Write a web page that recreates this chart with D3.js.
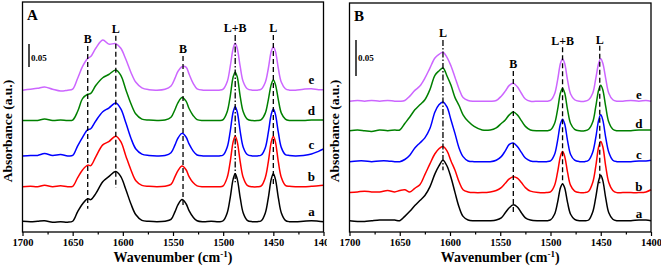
<!DOCTYPE html>
<html lang="en">
<head>
<meta charset="UTF-8">
<title>FTIR spectra of adsorbed pyridine</title>
<script src="https://cdn.jsdelivr.net/npm/d3@7"></script>
<style>
  body { margin:0; background:#fff; }
  svg text { font-family:'Liberation Serif','Times New Roman',serif; font-weight:bold; fill:#000; }
</style>
</head>
<body>
<svg id="chart" width="661" height="267"></svg>
<script>
/* global d3 */
// ---- data ----
const sampleNames = ["a", "b", "c", "d", "e"];
const colours = ["#000000", "#ff0000", "#0000ff", "#008000", "#cc66ff"];
const majorTicks = [1700, 1650, 1600, 1550, 1500, 1450, 1400];
const minorTicks = [1675, 1625, 1575, 1525, 1475, 1425];

// panel A
const wavenumberA = [1700,1692,1685,1678,1670,1662,1655,
  1650,1645,1640,1635,1632,1627,1620,1614,1607,1602,1597,1592,1587,1581,1574,
  1566,1558,1552,1548,1545,1541,1537,1534,1530,1526,1520,1512,1504,
  1500,1496,1493,1490,1488,1486,1483,1480,1476,1471,1466,
  1462,1458,1455,1452,1450,1448,1445,1442,1438,1434,
  1428,1420,1412,1405,1400];
const specA_a = [0.001,0,0.001,0.002,-0.001,0,-0.001,
  0.001,0.022,0.039,0.050,0.048,0.061,0.087,0.098,0.109,0.098,0.070,0.039,0.015,0.003,0.001,
  0,0.001,0.005,0.022,0.037,0.048,0.039,0.024,0.010,0.002,0,0.001,0,
  0.002,0.019,0.052,0.093,0.104,0.093,0.052,0.019,0.003,0,0,
  0.002,0.019,0.052,0.093,0.104,0.093,0.052,0.019,0.003,0,
  0,0.001,0.002,0.001,0];
const specA_b = [0,0.001,0,0.003,0,0.002,0,
  0.001,0.020,0.037,0.047,0.046,0.065,0.091,0.098,0.110,0.098,0.067,0.037,0.013,0.003,0.001,
  0,0.001,0.005,0.022,0.035,0.045,0.037,0.022,0.009,0.002,0,0,0,
  0.002,0.020,0.054,0.098,0.110,0.098,0.054,0.020,0.003,0,0,
  0.002,0.020,0.054,0.098,0.110,0.098,0.054,0.020,0.003,0.001,
  0,0,0.001,0.002,0.003];
const specA_c = [0,0.001,0.001,0.005,0.001,0.003,0,
  0.001,0.022,0.041,0.057,0.059,0.076,0.096,0.104,0.115,0.102,0.072,0.039,0.015,0.004,0.001,
  0,0.001,0.007,0.024,0.039,0.049,0.041,0.026,0.011,0.002,0,0,0,
  0.002,0.019,0.053,0.096,0.107,0.096,0.053,0.019,0.003,0,0,
  0.002,0.018,0.051,0.091,0.102,0.091,0.051,0.018,0.003,0.001,
  0,0.001,0.004,0.010,0.015];
const specA_d = [0,0,0,0.003,0,0.001,0,
  0.001,0.020,0.048,0.057,0.059,0.076,0.093,0.100,0.110,0.098,0.067,0.037,0.014,0.003,0.001,
  0,0.001,0.007,0.024,0.039,0.050,0.042,0.026,0.011,0.002,0,0,0,
  0.002,0.019,0.052,0.095,0.105,0.095,0.052,0.019,0.003,0,0,
  0.002,0.016,0.045,0.079,0.088,0.079,0.045,0.016,0.003,0,
  0,0,0.001,0.001,0.001];
const specA_e = [0,0.002,0.004,0.007,0.002,-0.002,0,
  0.002,0.026,0.052,0.069,0.073,0.091,0.109,0.100,0.101,0.091,0.067,0.039,0.017,0.005,0.001,
  0,0.002,0.009,0.026,0.041,0.051,0.050,0.035,0.015,0.003,0,0,0,
  0.002,0.018,0.051,0.091,0.102,0.091,0.051,0.018,0.003,0,0,
  0.002,0.017,0.047,0.085,0.094,0.085,0.047,0.017,0.003,0,
  0,0.002,0.003,0.001,0.001];
const offsetsA = [0, 0.076, 0.143, 0.220, 0.286];
// band markers: wavenumber, label, label height, line top, line bottom (a.u.)
const bandWnA = [1635, 1607, 1540, 1488, 1450];
const bandTextA = ["B", "L", "B", "L+B", "L"];
const bandLabelA = [0.388, 0.410, 0.367, 0.412, 0.412];
const bandTopA = [0.382, 0.404, 0.360, 0.406, 0.406];
const bandEndA = [0.028, 0.073, 0.036, 0.086, 0.080];
const bandDashA = ["dash", "dash", "dash", "dashdot", "dash"];

// panel B
const wavenumberB = [1700,1692,1685,1678,1670,1662,1655,
  1650,1645,1640,1635,1630,1625,1620,1615,1611,1607,
  1603,1599,1595,1591,1587,1582,1576,1568,
  1560,1554,1549,1545,1541,1537,1533,1529,1525,1520,1512,1504,
  1500,1496,1493,1490,1488,1486,1483,1480,1476,1471,1466,
  1462,1458,1455,1452,1450,1448,1445,1442,1438,1434,
  1428,1420,1412,1405,1400];
const specB_a = [0,-0.001,-0.001,0,0.001,0.001,0.001,
  0,0.006,0.013,0.021,0.028,0.035,0.047,0.065,0.076,0.084,
  0.076,0.060,0.039,0.019,0.006,0.001,0,0,
  0,0.001,0.004,0.011,0.018,0.022,0.019,0.011,0.004,0.001,0,0,
  0.001,0.009,0.025,0.046,0.051,0.046,0.025,0.009,0.002,0,0,
  0.001,0.012,0.032,0.056,0.063,0.056,0.031,0.011,0.002,0,
  0,0,0.001,0.001,0];
const specB_b = [0,0.001,0.002,0.001,0.001,0.003,0.001,
  0.003,0.004,0.001,0.006,0.011,0.025,0.040,0.054,0.061,0.064,
  0.058,0.044,0.031,0.015,0.004,0.001,0,0,
  0.001,0.003,0.007,0.013,0.019,0.022,0.020,0.014,0.007,0.002,0,0,
  0.001,0.010,0.028,0.051,0.057,0.051,0.028,0.010,0.002,0,0,
  0.002,0.014,0.036,0.064,0.071,0.064,0.036,0.014,0.003,0,
  0,0,0,0.001,0.004];
const specB_c = [0,0.001,0.001,0,0.001,0.001,0,
  0,0.003,0.009,0.019,0.026,0.033,0.046,0.069,0.079,0.083,
  0.076,0.058,0.039,0.019,0.007,0.001,0,0,
  0,0.002,0.007,0.015,0.024,0.026,0.021,0.013,0.005,0.001,0,0,
  0.001,0.010,0.029,0.053,0.059,0.053,0.029,0.010,0.002,0,0,
  0.002,0.013,0.033,0.058,0.065,0.058,0.033,0.013,0.002,0,
  0,0,0.001,0.001,0.002];
const specB_d = [0,0.001,0,-0.001,0.001,0,0.001,
  0.001,0.010,0.019,0.029,0.036,0.043,0.057,0.077,0.083,0.087,
  0.076,0.063,0.046,0.035,0.022,0.013,0.006,0.001,
  0.001,0.004,0.010,0.015,0.022,0.026,0.022,0.014,0.006,0.001,0,0,
  0.001,0.010,0.029,0.053,0.059,0.053,0.029,0.010,0.002,0,0,
  0.002,0.012,0.033,0.057,0.063,0.057,0.033,0.012,0.002,0,
  0,0,0.001,0.001,0.001];
const specB_e = [0,0.001,0,0.001,0,0.001,0,
  0,0.001,0.007,0.015,0.021,0.032,0.046,0.060,0.065,0.068,
  0.061,0.049,0.033,0.017,0.005,0.001,0,0,
  0,0.001,0.007,0.014,0.022,0.025,0.020,0.011,0.003,0,0,0,
  0.001,0.010,0.029,0.053,0.059,0.053,0.029,0.010,0.002,0,0,
  0.002,0.011,0.031,0.053,0.059,0.053,0.031,0.011,0.002,0,
  0,0.001,0,0.001,0];
const offsetsB = [0, 0.039, 0.082, 0.125, 0.166];
const bandWnB = [1607, 1537, 1488, 1451];
const bandTextB = ["L", "B", "L+B", "L"];
const bandLabelB = [0.255, 0.212, 0.244, 0.245];
const bandTopB = [0.251, 0.208, 0.241, 0.243];
const bandEndB = [0.070, 0.012, 0.050, 0.052];
const bandDashB = ["dashdot", "dash", "dash", "dash"];

const labelWn = 1412;   // where the a..e tags sit

// ---- drawing ----
const svg = d3.select("#chart");
const dashes = { dash: "5,3", dashdot: "6,2,1.5,2" };

function drawPanel(p) {
  const g = svg.append("g");
  if (p.clip) {
    svg.append("clipPath").attr("id", p.id + "clip")
      .append("rect").attr("x", 0).attr("y", 0).attr("width", p.clip).attr("height", 267);
    g.attr("clip-path", "url(#" + p.id + "clip)");
  }

  let x = d3.scaleLinear().domain([1700, 1400]).range(p.xRange);
  let y = d3.scaleLinear().domain(p.yDomain).range(p.yRange);

  // spectra
  let line = d3.line()
    .x(d => x(d[0]))
    .y(d => y(d[1]))
    .curve(d3.curveCatmullRom.alpha(0.5));

  p.series.forEach((vals, i) => {
    let pts = p.wn.map((w, j) => [w, vals[j] + p.offsets[i]]);
    g.append("path")
      .attr("d", line(pts))
      .attr("fill", "none")
      .attr("stroke", colours[i])
      .attr("stroke-width", 1.5)
      .attr("stroke-linejoin", "round");

    let k = p.wn.indexOf(labelWn);
    g.append("text")
      .attr("x", x(labelWn))
      .attr("y", y(vals[k] + p.offsets[i]) - p.labelLift)
      .attr("text-anchor", "middle")
      .style("font-size", "13px")
      .text(sampleNames[i]);
  });

  // band markers
  p.bandWn.forEach((w, i) => {
    g.append("line")
      .attr("x1", x(w)).attr("x2", x(w))
      .attr("y1", y(p.bandTop[i])).attr("y2", y(p.bandEnd[i]))
      .attr("stroke", "#000")
      .attr("stroke-width", 1.3)
      .attr("stroke-dasharray", dashes[p.bandDash[i]]);
    g.append("text")
      .attr("x", x(w))
      .attr("y", y(p.bandLabel[i]))
      .attr("text-anchor", "middle")
      .style("font-size", "12px")
      .text(p.bandText[i]);
  });

  // scale bar 0.05
  let barLen = y(0) - y(0.05);
  g.append("line")
    .attr("x1", p.xRange[0] + 6.5).attr("x2", p.xRange[0] + 6.5)
    .attr("y1", p.barBottom - barLen).attr("y2", p.barBottom)
    .attr("stroke", "#000").attr("stroke-width", 1.4);
  g.append("text")
    .attr("x", p.xRange[0] + 8.5)
    .attr("y", 61)
    .style("font-size", "9px")
    .text("0.05");

  // frame
  g.append("rect")
    .attr("x", p.xRange[0]).attr("y", p.yRange[1])
    .attr("width", p.xRange[1] - p.xRange[0])
    .attr("height", p.yRange[0] - p.yRange[1])
    .attr("fill", "none").attr("stroke", "#000").attr("stroke-width", 1.3);

  // x axis
  let xAxis = d3.axisBottom(x)
    .tickValues(majorTicks)
    .tickSize(4)
    .tickPadding(3)
    .tickFormat(d3.format("d"));
  let ax = g.append("g")
    .attr("transform", "translate(0," + p.yRange[0] + ")")
    .call(xAxis);
  ax.select(".domain").remove();
  ax.selectAll("line").attr("stroke-width", 1.2);
  ax.selectAll("text")
    .style("font-size", "10.5px")
    .attr("font-family", null);

  let minor = g.append("g")
    .attr("transform", "translate(0," + p.yRange[0] + ")")
    .call(d3.axisBottom(x).tickValues(minorTicks).tickSize(2.5).tickFormat(""));
  minor.select(".domain").remove();
  minor.selectAll("line").attr("stroke-width", 1.2);

  // titles
  g.append("text")
    .attr("x", (p.xRange[0] + p.xRange[1]) / 2)
    .attr("y", 262)
    .attr("text-anchor", "middle")
    .style("font-size", "14px")
    .call(t => {
      t.append("tspan").text("Wavenumber (cm");
      t.append("tspan").attr("dy", -5).style("font-size", "9px").text("-1");
      t.append("tspan").attr("dy", 5).text(")");
    });

  g.append("text")
    .attr("transform", "translate(" + (p.xRange[0] - 10.5) + ",131) rotate(-90)")
    .attr("text-anchor", "middle")
    .style("font-size", "13.5px")
    .text("Absorbance (a.u.)");

  g.append("text")
    .attr("x", p.xRange[0] + 4.5)
    .attr("y", p.yRange[1] + 18)
    .style("font-size", "15px")
    .text(p.id);
}

drawPanel({
  id: "A",
  xRange: [22.5, 323.5],
  yRange: [232, 2],
  yDomain: [-0.0224, 0.4776],
  wn: wavenumberA,
  series: [specA_a, specA_b, specA_c, specA_d, specA_e],
  offsets: offsetsA,
  bandWn: bandWnA, bandText: bandTextA, bandLabel: bandLabelA,
  bandTop: bandTopA, bandEnd: bandEndA, bandDash: bandDashA,
  labelLift: 5,
  barBottom: 67,
  clip: 327
});

drawPanel({
  id: "B",
  xRange: [349.5, 651],
  yRange: [232, 3],
  yDomain: [-0.0157, 0.3024],
  wn: wavenumberB,
  series: [specB_a, specB_b, specB_c, specB_d, specB_e],
  offsets: offsetsB,
  bandWn: bandWnB, bandText: bandTextB, bandLabel: bandLabelB,
  bandTop: bandTopB, bandEnd: bandEndB, bandDash: bandDashB,
  labelLift: 2,
  barBottom: 76
});
</script>
</body>
</html>
